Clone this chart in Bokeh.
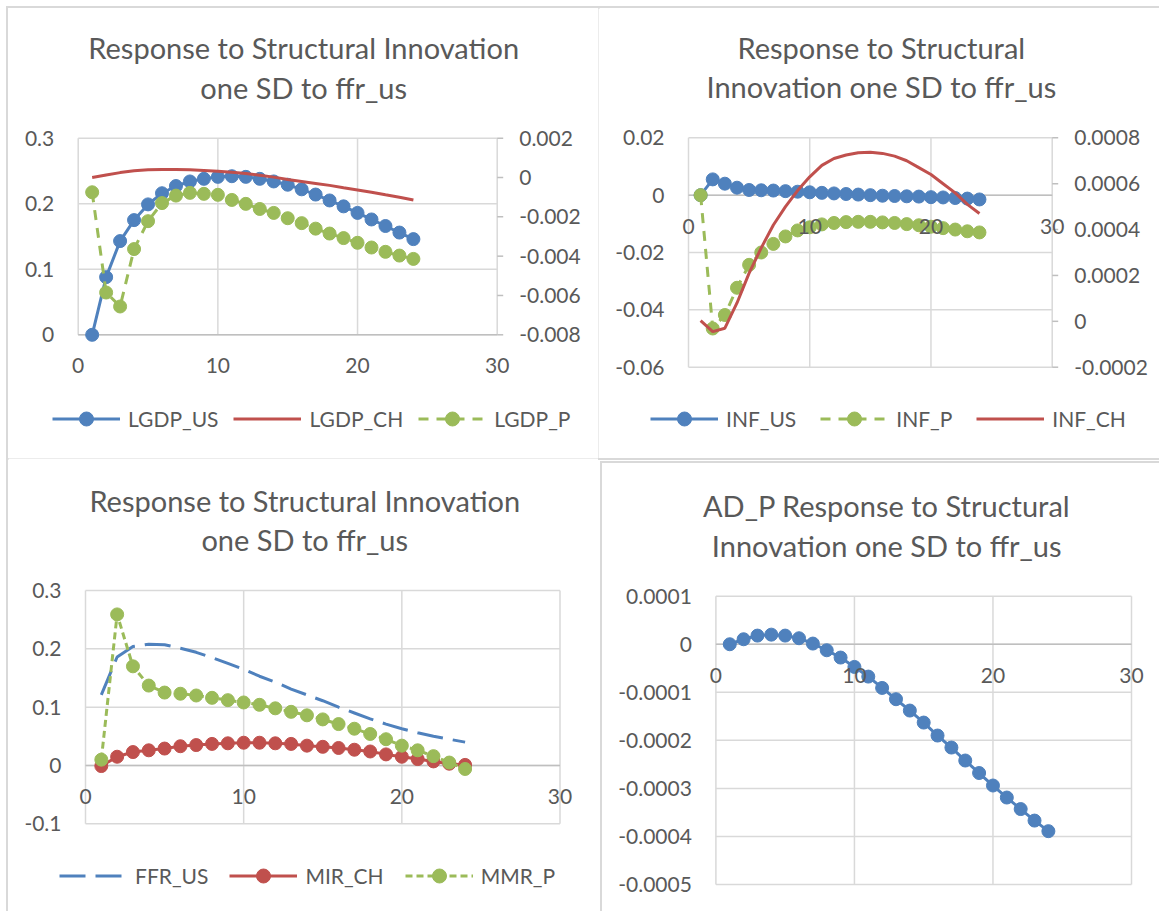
from bokeh.plotting import figure
from bokeh.models import Range1d, Legend, LegendItem
from bokeh.core.properties import value
from bokeh.layouts import row, column
from bokeh.embed import file_html
from bokeh.resources import INLINE

# ---------------- data ----------------
periods = [1, 2, 3, 4, 5, 6, 7, 8, 9, 10, 11, 12, 13, 14, 15, 16, 17, 18, 19, 20, 21, 22, 23, 24]

x_ticks = [0, 10, 20, 30]
x_tick_labels = ["0", "10", "20", "30"]

# Panel 1
LGDP_US = [0.0, 0.088, 0.143, 0.175, 0.199, 0.216, 0.227, 0.234, 0.238, 0.241, 0.242, 0.241,
           0.238, 0.234, 0.229, 0.222, 0.214, 0.205, 0.196, 0.186, 0.176, 0.166, 0.156, 0.146]
LGDP_CH = [0.0, 0.00013, 0.00025, 0.00034, 0.00039, 0.00041, 0.00041, 0.00039, 0.00036, 0.00032,
           0.00027, 0.00021, 0.00012, 0.00002, -0.0001, -0.0002, -0.0003, -0.0004, -0.00052,
           -0.00063, -0.00075, -0.00088, -0.001, -0.00114]
LGDP_P = [-0.00075, -0.00585, -0.00656, -0.00364, -0.00222, -0.0013, -0.00092, -0.00078, -0.00083,
          -0.00088, -0.00114, -0.00134, -0.0016, -0.0018, -0.00207, -0.00232, -0.0026, -0.00285,
          -0.00308, -0.00332, -0.00356, -0.00378, -0.00397, -0.00414]
p1_left_ticks = [0, 0.1, 0.2, 0.3]
p1_left_labels = ["0", "0.1", "0.2", "0.3"]
p1_right_ticks = [-0.008, -0.006, -0.004, -0.002, 0, 0.002]
p1_right_labels = ["-0.008", "-0.006", "-0.004", "-0.002", "0", "0.002"]

# Panel 2
INF_US = [0.0, 0.0055, 0.004, 0.0026, 0.0018, 0.0017, 0.0016, 0.0014, 0.0012, 0.001, 0.0008, 0.0006,
          0.0004, 0.0002, 0.0, -0.0002, -0.0003, -0.0004, -0.0005, -0.0007, -0.0008, -0.001, -0.0012, -0.0015]
INF_P = [0.0, -0.0465, -0.0418, -0.0323, -0.0243, -0.02, -0.017, -0.0144, -0.0123, -0.0112, -0.0102,
         -0.0097, -0.0094, -0.0093, -0.0093, -0.0095, -0.0097, -0.0101, -0.0105, -0.011, -0.0115,
         -0.012, -0.0126, -0.013]
INF_CH = [0.000003, -0.000045, -0.00003, 0.00008, 0.00021, 0.00032, 0.00042, 0.0005, 0.00057, 0.00063,
          0.00068, 0.00071, 0.000725, 0.000735, 0.000737, 0.000732, 0.00072, 0.0007, 0.00067, 0.00064,
          0.0006, 0.00056, 0.00051, 0.00047]
p2_left_ticks = [-0.06, -0.04, -0.02, 0, 0.02]
p2_left_labels = ["-0.06", "-0.04", "-0.02", "0", "0.02"]
p2_right_ticks = [-0.0002, 0, 0.0002, 0.0004, 0.0006, 0.0008]
p2_right_labels = ["-0.0002", "0", "0.0002", "0.0004", "0.0006", "0.0008"]

# Panel 3
FFR_US = [0.121, 0.186, 0.204, 0.208, 0.207, 0.201, 0.194, 0.185, 0.175, 0.165, 0.153, 0.143,
          0.131, 0.121, 0.111, 0.1, 0.09, 0.08, 0.071, 0.063, 0.056, 0.05, 0.045, 0.04]
MIR_CH = [-0.001, 0.015, 0.023, 0.026, 0.029, 0.033, 0.035, 0.037, 0.038, 0.039, 0.039, 0.038,
          0.037, 0.034, 0.032, 0.03, 0.027, 0.024, 0.019, 0.015, 0.011, 0.007, 0.003, 0.001]
MMR_P = [0.01, 0.259, 0.17, 0.137, 0.125, 0.123, 0.12, 0.116, 0.112, 0.108, 0.104, 0.098,
         0.092, 0.086, 0.079, 0.071, 0.063, 0.054, 0.045, 0.034, 0.026, 0.016, 0.005, -0.006]
p3_ticks = [-0.1, 0, 0.1, 0.2, 0.3]
p3_labels = ["-0.1", "0", "0.1", "0.2", "0.3"]

# Panel 4
AD_P = [0.0, 0.0000104, 0.000018, 0.00002, 0.000018, 0.0000125, 0.0000014, -0.0000125, -0.0000277,
        -0.0000472, -0.0000673, -0.0000909, -0.0001144, -0.000138, -0.000163, -0.00019, -0.000215,
        -0.000242, -0.000268, -0.000294, -0.000319, -0.000343, -0.000367, -0.000389]
p4_ticks = [-0.0005, -0.0004, -0.0003, -0.0002, -0.0001, 0, 0.0001]
p4_labels = ["-0.0005", "-0.0004", "-0.0003", "-0.0002", "-0.0001", "0", "0.0001"]

titles = ["Response to Structural Innovation\none SD to ffr_us",
          "Response to Structural\nInnovation one SD to ffr_us",
          "Response to Structural Innovation\none SD to ffr_us",
          "AD_P Response to Structural\nInnovation one SD to ffr_us"]

# ---------------- style ----------------
FONT = "Lato"
GRID = "#D9D9D9"
AXIS = "#BFBFBF"
TEXT = "#595959"
BLUE = "#4F81BD"
RED = "#C0504D"
GREEN = "#9BBB59"
FS = "21px"
TFS = "29px"
MS = 13
LW = 3


def make_fig(W, H, box, yr, lticks, llabels, title, title_dx, styles, margin=(0, 0, 0, 0)):
    """The frame covers the whole figure; 'box' is the plot area (px, relative to the figure)."""
    bl, bt, bw, bh = box
    xpp = 30.0 / bw
    ypp = (yr[1] - yr[0]) / bh
    p = figure(width=W, height=H,
               x_range=Range1d(0 - bl * xpp, 30 + (W - bl - bw) * xpp),
               y_range=Range1d(yr[0] - (H - bt - bh) * ypp, yr[1] + bt * ypp),
               x_axis_location=None, y_axis_location=None, min_border=0,
               output_backend="svg", toolbar_location=None, margin=margin)
    for g in p.grid:
        g.visible = False
    p.outline_line_color = None
    p.styles = styles
    n = len(x_ticks)
    # plot-box grid lines (from the tick arrays)
    p.segment(x0=x_ticks, x1=x_ticks, y0=[lticks[0]] * n, y1=[lticks[-1]] * n,
              line_color=GRID, line_width=1.5)
    p.segment(x0=[0] * len(lticks), x1=[30] * len(lticks), y0=lticks, y1=lticks,
              line_color=GRID, line_width=1.5)
    p.segment(x0=[0], x1=[30], y0=[0], y1=[0], line_color=AXIS, line_width=1.5)
    # left axis labels
    p.text(x=[0] * len(lticks), y=lticks, text=llabels, x_offset=-24,
           text_align="right", text_baseline="middle", text_font=value(FONT),
           text_font_size=FS, text_color=TEXT)
    # title (two lines above the plot box)
    lines = title.split("\n")
    p.text(x=[15] * len(lines), y=[yr[1]] * len(lines), text=lines,
           x_offset=title_dx, y_offset=[-90.5, -51],
           text_align="center", text_baseline="middle", text_font=value(FONT),
           text_font_size=TFS, text_color=TEXT)
    return p


def add_xlabels(p):
    # horizontal axis labels next to the zero line, drawn over the series
    n = len(x_ticks)
    p.text(x=x_ticks, y=[0] * n, text=x_tick_labels, y_offset=31,
           text_align="center", text_baseline="middle", text_font=value(FONT),
           text_font_size=FS, text_color=TEXT)


def add_right(p, box, W, H, yr, ticks, labels):
    bl, bt, bw, bh = box
    ypp = (yr[1] - yr[0]) / bh
    p.extra_y_ranges = {"right": Range1d(yr[0] - (H - bt - bh) * ypp, yr[1] + bt * ypp)}
    n = len(ticks)
    p.ray(x=[30] * n, y=ticks, length=6, angle=0, length_units="screen",
          line_color=AXIS, line_width=1.5, y_range_name="right")
    p.text(x=[30] * n, y=ticks, text=labels, x_offset=22, y_range_name="right",
           text_align="left", text_baseline="middle", text_font=value(FONT),
           text_font_size=FS, text_color=TEXT)


def add_legend(p, items, loc, spacing):
    lg = Legend(items=[LegendItem(label=l, renderers=r) for l, r in items],
                location=loc, orientation="horizontal",
                label_text_font=FONT, label_text_font_size=FS, label_text_color=TEXT,
                border_line_color=None, background_fill_alpha=0, glyph_width=68,
                glyph_height=35, label_height=24, label_standoff=8, spacing=spacing,
                padding=0, margin=0)
    p.add_layout(lg)


SH_ALL = {"outline": "2px solid #D9D9D9"}
SH_TB = {"box-shadow": "0 -2px 0 0 #D9D9D9, 0 2px 0 0 #D9D9D9"}
SH_L = {"box-shadow": "-2px 0 0 0 #D9D9D9"}

# ---------------- panel 1 ----------------
W1, H1 = 590, 450
box1 = (69.7, 129.7, 419.0, 196.6)
p1 = make_fig(W1, H1, box1, (0, 0.3), p1_left_ticks, p1_left_labels, titles[0], 16, SH_ALL)
add_right(p1, box1, W1, H1, (-0.008, 0.002), p1_right_ticks, p1_right_labels)
a1 = p1.line(periods, LGDP_US, line_color=BLUE, line_width=LW)
a2 = p1.scatter(periods, LGDP_US, size=MS, fill_color=BLUE, line_color=BLUE)
b1 = p1.line(periods, LGDP_CH, line_color=RED, line_width=LW, y_range_name="right")
c1 = p1.line(periods, LGDP_P, line_color=GREEN, line_width=LW, line_dash="10 8", y_range_name="right")
c2 = p1.scatter(periods, LGDP_P, size=MS, fill_color=GREEN, line_color=GREEN, y_range_name="right")
add_xlabels(p1)
add_legend(p1, [("LGDP_US", [a1, a2]), ("LGDP_CH", [b1]), ("LGDP_P", [c1, c2])], (44, 22), 15)

# ---------------- panel 2 ----------------
W2, H2 = 561, 450
box2 = (90.0, 129.3, 363.7, 229.4)
p2 = make_fig(W2, H2, box2, (-0.06, 0.02), p2_left_ticks, p2_left_labels, titles[1], 11, SH_TB)
add_right(p2, box2, W2, H2, (-0.0002, 0.0008), p2_right_ticks, p2_right_labels)
d1 = p2.line(periods, INF_US, line_color=BLUE, line_width=LW)
d2 = p2.scatter(periods, INF_US, size=MS, fill_color=BLUE, line_color=BLUE)
e1 = p2.line(periods, INF_P, line_color=GREEN, line_width=LW, line_dash="10 8")
e2 = p2.scatter(periods, INF_P, size=MS, fill_color=GREEN, line_color=GREEN)
f1 = p2.line(periods, INF_CH, line_color=RED, line_width=LW, y_range_name="right")
add_xlabels(p2)
add_legend(p2, [("INF_US", [d1, d2]), ("INF_P", [e1, e2]), ("INF_CH", [f1])], (52, 22), 24)

# ---------------- panel 3 ----------------
W3, H3 = 590, 453
box3 = (77.0, 132.0, 474.5, 233.3)
p3 = make_fig(W3, H3, box3, (-0.1, 0.3), p3_ticks, p3_labels, titles[2], -18, SH_L)
g1 = p3.line(periods, FFR_US, line_color=BLUE, line_width=LW, line_dash="26 10")
h1 = p3.line(periods, MIR_CH, line_color=RED, line_width=LW)
h2 = p3.scatter(periods, MIR_CH, size=MS, fill_color=RED, line_color=RED)
k1 = p3.line(periods, MMR_P, line_color=GREEN, line_width=LW, line_dash="7 4")
k2 = p3.scatter(periods, MMR_P, size=MS, fill_color=GREEN, line_color=GREEN)
add_xlabels(p3)
add_legend(p3, [("FFR_US", [g1]), ("MIR_CH", [h1, h2]), ("MMR_P", [k1, k2])], (51, 18), 21)

# ---------------- panel 4 ----------------
W4, H4 = 557, 448
box4 = (113.4, 132.7, 415.6, 288.3)
p4 = make_fig(W4, H4, box4, (-0.0005, 0.0001), p4_ticks, p4_labels, titles[3], -37, SH_ALL,
              margin=(5, 0, 0, 4))
p4.line(periods, AD_P, line_color=BLUE, line_width=LW)
p4.scatter(periods, AD_P, size=MS, fill_color=BLUE, line_color=BLUE)
add_xlabels(p4)

layout = column(row(p1, p2), row(p3, p4), margin=(8, 0, 0, 8))
open("out.html", "w").write(file_html(layout, INLINE))
